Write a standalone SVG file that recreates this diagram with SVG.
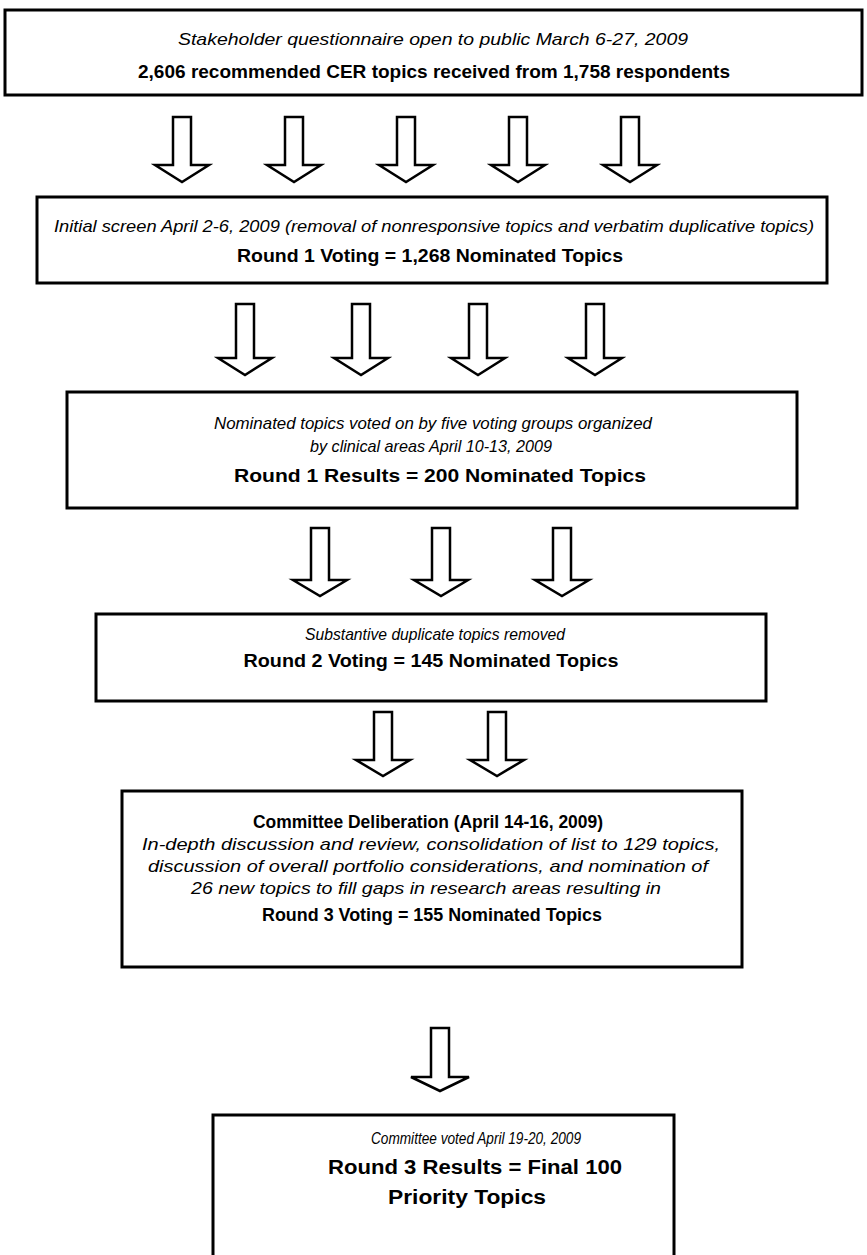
<svg xmlns="http://www.w3.org/2000/svg" width="867" height="1255" viewBox="0 0 867 1255">
<style>
.box{fill:#fff;stroke:#000;stroke-width:3}
.arr{fill:#fff;stroke:#000;stroke-width:2.5;stroke-linejoin:miter}
text{font-family:"Liberation Sans",Arial,sans-serif;text-anchor:middle;fill:#000}
.i{font-style:italic;font-size:17px}
.b{font-weight:bold;font-size:18px}
</style>
<rect width="867" height="1255" fill="#fff"/>
<g id="connectors">
<path class="arr" d="M173,117H191V165H209L182,182L155,165H173Z"/>
<path class="arr" d="M285,117H303V165H321L294,182L267,165H285Z"/>
<path class="arr" d="M397,117H415V165H433L406,182L379,165H397Z"/>
<path class="arr" d="M509,117H527V165H545L518,182L491,165H509Z"/>
<path class="arr" d="M621,117H639V165H657L630,182L603,165H621Z"/>
<path class="arr" d="M236,304H254V358H272L245,375L218,358H236Z"/>
<path class="arr" d="M352,304H370V358H388L361,375L334,358H352Z"/>
<path class="arr" d="M469,304H487V358H505L478,375L451,358H469Z"/>
<path class="arr" d="M586,304H604V358H622L595,375L568,358H586Z"/>
<path class="arr" d="M311,528H329V580H347L320,596L293,580H311Z"/>
<path class="arr" d="M432,528H450V580H468L441,596L414,580H432Z"/>
<path class="arr" d="M553,528H571V580H589L562,596L535,580H553Z"/>
<path class="arr" d="M374,712H392V760H410L383,776L356,760H374Z"/>
<path class="arr" d="M488,712H506V760H524L497,776L470,760H488Z"/>
<path class="arr" d="M431,1028H449V1077H469L440,1091L411,1077H431Z"/>
</g>
<g id="n1">
<rect class="box" x="5" y="10" width="857" height="85"/>
<text class="i" x="433" y="45" textLength="510" lengthAdjust="spacingAndGlyphs">Stakeholder questionnaire open to public March 6-27, 2009</text>
<text class="b" x="434" y="78" style="font-size:19px" textLength="592" lengthAdjust="spacingAndGlyphs">2,606 recommended CER topics received from 1,758 respondents</text>
</g>
<g id="n2">
<rect class="box" x="37" y="197" width="790" height="86"/>
<text class="i" x="434" y="232" textLength="760" lengthAdjust="spacingAndGlyphs">Initial screen April 2-6, 2009 (removal of nonresponsive topics and verbatim duplicative topics)</text>
<text class="b" x="430" y="262" style="font-size:19px" textLength="386" lengthAdjust="spacingAndGlyphs">Round 1 Voting = 1,268 Nominated Topics</text>
</g>
<g id="n3">
<rect class="box" x="67" y="392" width="730" height="116"/>
<text class="i" x="433" y="429" textLength="438" lengthAdjust="spacingAndGlyphs">Nominated topics voted on by five voting groups organized</text>
<text class="i" x="431" y="452" textLength="242" lengthAdjust="spacingAndGlyphs">by clinical areas April 10-13, 2009</text>
<text class="b" x="440" y="482" style="font-size:19px" textLength="412" lengthAdjust="spacingAndGlyphs">Round 1 Results = 200 Nominated Topics</text>
</g>
<g id="n4">
<rect class="box" x="96" y="614" width="670" height="87"/>
<text class="i" x="435" y="640" textLength="260" lengthAdjust="spacingAndGlyphs">Substantive duplicate topics removed</text>
<text class="b" x="431" y="667" style="font-size:19px" textLength="375" lengthAdjust="spacingAndGlyphs">Round 2 Voting = 145 Nominated Topics</text>
</g>
<g id="n5">
<rect class="box" x="122" y="791" width="620" height="176"/>
<text class="b" x="428" y="828" textLength="350" lengthAdjust="spacingAndGlyphs">Committee Deliberation (April 14-16, 2009)</text>
<text class="i" x="431" y="850" textLength="578" lengthAdjust="spacingAndGlyphs">In-depth discussion and review, consolidation of list to 129 topics,</text>
<text class="i" x="428" y="872" textLength="560" lengthAdjust="spacingAndGlyphs">discussion of overall portfolio considerations, and nomination of</text>
<text class="i" x="426" y="894" textLength="470" lengthAdjust="spacingAndGlyphs">26 new topics to fill gaps in research areas resulting in</text>
<text class="b" x="432" y="921" textLength="340" lengthAdjust="spacingAndGlyphs">Round 3 Voting = 155 Nominated Topics</text>
</g>
<g id="n6">
<rect class="box" x="213" y="1115" width="461" height="160"/>
<text class="i" x="476" y="1144" textLength="210" lengthAdjust="spacingAndGlyphs">Committee voted April 19-20, 2009</text>
<text class="b" x="475" y="1174" style="font-size:20px" textLength="294" lengthAdjust="spacingAndGlyphs">Round 3 Results = Final 100</text>
<text class="b" x="467" y="1204" style="font-size:20px" textLength="158" lengthAdjust="spacingAndGlyphs">Priority Topics</text>
</g>
</svg>
